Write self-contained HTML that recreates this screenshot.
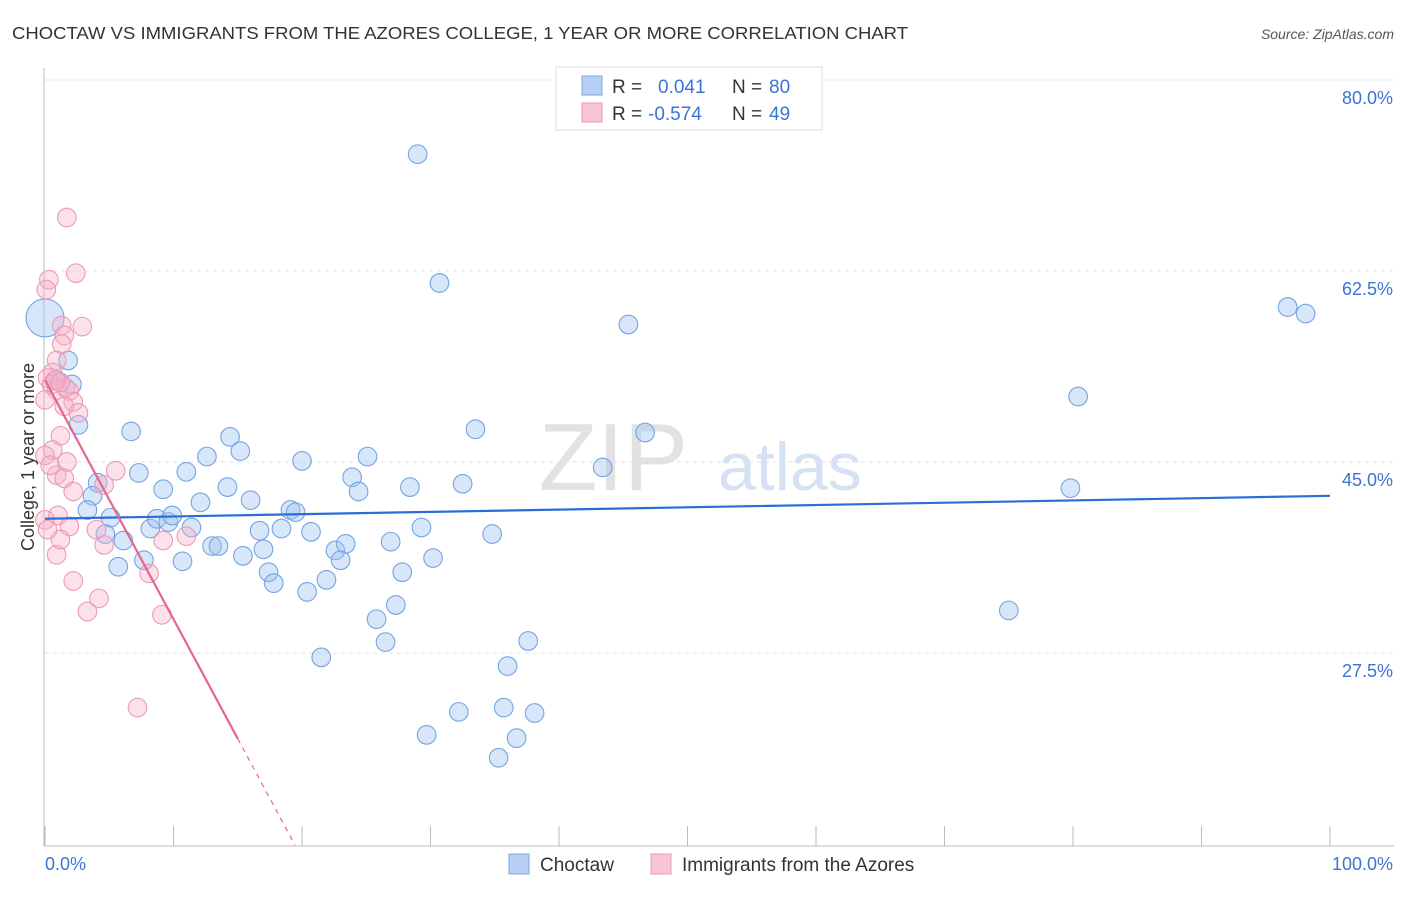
<!DOCTYPE html>
<html><head><meta charset="utf-8"><style>
body{margin:0;background:#fff;font-family:"Liberation Sans",sans-serif;}
svg text{font-family:"Liberation Sans",sans-serif;}
</style></head><body>
<svg id="chart" width="1406" height="892" viewBox="0 0 1406 892">
<text x="12" y="39" font-size="17.5" fill="#333" textLength="896" lengthAdjust="spacingAndGlyphs">CHOCTAW VS IMMIGRANTS FROM THE AZORES COLLEGE, 1 YEAR OR MORE CORRELATION CHART</text>
<text x="1394" y="39" font-size="14" fill="#555" text-anchor="end" font-style="italic">Source: ZipAtlas.com</text>
<g id="grid"></g>
<text x="688" y="490" font-size="96" fill="#e2e2e2" text-anchor="end" font-family="Liberation Serif">ZIP</text>
<text x="718" y="490" font-size="68" fill="#d6e2f3">atlas</text>
<g id="axes"></g>
<g id="pts"></g>
<g id="trends"></g>
<text transform="translate(34,457) rotate(-90)" font-size="18" fill="#333" text-anchor="middle">College, 1 year or more</text>
<g>
<rect x="556" y="67" width="266" height="63" fill="#fff" stroke="#ddd"/>
<rect x="582" y="76" width="20" height="19" fill="#b8d0f4" stroke="#7aa6e4"/>
<rect x="582" y="103" width="20" height="19" fill="#f9c4d6" stroke="#eb9ab8"/>
<text x="612" y="93" font-size="19" fill="#333">R = </text><text x="658" y="93" font-size="19" fill="#3a74d4">0.041</text>
<text x="732" y="93" font-size="19" fill="#333">N = </text><text x="769" y="93" font-size="19" fill="#3a74d4">80</text>
<text x="612" y="120" font-size="19" fill="#333">R = </text><text x="648" y="120" font-size="19" fill="#3a74d4">-0.574</text>
<text x="732" y="120" font-size="19" fill="#333">N = </text><text x="769" y="120" font-size="19" fill="#3a74d4">49</text>
</g>
<g>
<rect x="509" y="854" width="20" height="20" fill="#b8d0f4" stroke="#7aa6e4"/>
<text x="540" y="871" font-size="19" fill="#333">Choctaw</text>
<rect x="651" y="854" width="20" height="20" fill="#f9c4d6" stroke="#eb9ab8"/>
<text x="682" y="871" font-size="19" fill="#333">Immigrants from the Azores</text>
</g>
</svg>
<script>
const yTicks=[80,62.5,45,27.5];
const yTickLabels=["80.0%","62.5%","45.0%","27.5%"];
const xTicks=[0,10,20,30,40,50,60,70,80,90,100];
const blueX=[29.0,30.7,45.4,96.7,98.1,80.4,46.7,33.5,43.4,79.8,75.0,1.8,0.9,2.1,0,2.6,6.7,7.3,11.0,9.2,12.6,14.4,15.2,14.2,16.0,12.1,20.0,23.9,25.1,24.4,28.4,32.5,4.1,3.7,3.3,5.1,6.1,4.7,5.7,7.7,8.2,8.7,9.6,9.9,11.4,10.7,13.0,13.5,15.4,16.7,17.0,18.4,17.4,17.8,19.1,19.5,20.7,22.6,23.4,23.0,21.9,20.4,26.9,29.3,30.2,27.8,34.8,27.3,25.8,26.5,21.5,37.6,36.0,32.2,35.7,38.1,29.7,36.7,35.3];
const blueY=[73.2,61.4,57.6,59.2,58.6,51.0,47.7,48.0,44.5,42.6,31.4,54.3,52.5,52.1,58.2,48.4,47.8,44.0,44.1,42.5,45.5,47.3,46.0,42.7,41.5,41.3,45.1,43.6,45.5,42.3,42.7,43.0,43.1,41.9,40.6,39.9,37.8,38.4,35.4,36.0,38.9,39.8,39.5,40.1,39.0,35.9,37.3,37.3,36.4,38.7,37.0,38.9,34.9,33.9,40.6,40.4,38.6,36.9,37.5,36.0,34.2,33.1,37.7,39.0,36.2,34.9,38.4,31.9,30.6,28.5,27.1,28.6,26.3,22.1,22.5,22.0,20.0,19.7,17.9];
const pinkX=[1.7,2.4,0.3,0.1,2.9,1.3,1.5,1.3,0.9,0.6,0.2,0.5,0.9,1.6,1.9,2.2,1.5,2.6,1.2,0.6,0,1.7,0.9,1.5,5.5,4.6,2.2,1.0,1.9,4.0,4.6,0.9,1.2,8.1,11.0,9.2,2.2,4.2,3.3,9.1,7.2,0,0.2,0.8,1.2,0.4,0];
const pinkY=[67.4,62.3,61.7,60.8,57.4,57.5,56.6,55.8,54.3,53.2,52.7,52.1,51.6,51.8,51.5,50.5,50.1,49.5,47.4,46.1,45.6,45.0,43.8,43.5,44.2,42.9,42.3,40.1,39.1,38.8,37.4,36.5,37.9,34.8,38.2,37.8,34.1,32.5,31.3,31.0,22.5,39.7,38.8,52.5,52.3,44.7,50.7];
const blueTrend=[39.8,41.9];
const pinkTrend=[52.5,-2.19];
const NS="http://www.w3.org/2000/svg";
const X0=45,X1=1330,Y80=80,PXPER=191/17.5;
const sx=v=>X0+(X1-X0)*v/100;
const sy=v=>Y80+(80-v)*PXPER;
function mk(tag,attrs,parent){const e=document.createElementNS(NS,tag);for(const k in attrs)e.setAttribute(k,attrs[k]);parent.appendChild(e);return e;}
const grid=document.getElementById('grid'),axes=document.getElementById('axes'),pts=document.getElementById('pts'),tr=document.getElementById('trends');
yTicks.forEach((t,i)=>{
 const l=mk('line',{x1:45,x2:1394,y1:sy(t),y2:sy(t),stroke:'#e0e0e0','stroke-dasharray':'4,4'},grid);
 
 
 const tx=mk('text',{x:1393,y:sy(t)+24,'font-size':18,fill:'#3a74d4','text-anchor':'end'},axes);
 tx.textContent=yTickLabels[i];
 
 
});
const ya=mk('line',{x1:44,x2:44,y1:68,y2:846,stroke:'#bbb'},axes);


const xa=mk('line',{x1:44,x2:1394,y1:846,y2:846,stroke:'#bbb'},axes);


xTicks.forEach(t=>{
 const l=mk('line',{x1:sx(t),x2:sx(t),y1:826,y2:846,stroke:'#bbb'},axes);
 
 
});
const xl0=mk('text',{x:45,y:870,'font-size':18,fill:'#3a74d4'},axes);xl0.textContent='0.0%';


const xl1=mk('text',{x:1393,y:870,'font-size':18,fill:'#3a74d4','text-anchor':'end'},axes);xl1.textContent='100.0%';


blueX.forEach((x,i)=>{
 const c=mk('circle',{cx:sx(x),cy:sy(blueY[i]),r:(x===0&&blueY[i]>58)?19:9.3,fill:'rgba(160,195,240,0.42)',stroke:'#76a4e2','stroke-width':1.1},pts);
 
 
});
pinkX.forEach((x,i)=>{
 const c=mk('circle',{cx:sx(x),cy:sy(pinkY[i]),r:9.3,fill:'rgba(246,175,200,0.38)',stroke:'#ec9ab8','stroke-width':1.1},pts);
 
 
});
const bl=mk('line',{x1:sx(0),y1:sy(blueTrend[0]),x2:sx(100),y2:sy(blueTrend[1]),stroke:'#2a6fd6','stroke-width':2.2},tr);


const pv=x=>pinkTrend[0]+pinkTrend[1]*x;
const pl=mk('line',{x1:sx(0),y1:sy(pv(0)),x2:sx(15),y2:sy(pv(15)),stroke:'#e5668f','stroke-width':2.2},tr);


const xEnd=(pinkTrend[0]-9.9)/(-pinkTrend[1]);
const pd=mk('line',{x1:sx(15),y1:sy(pv(15)),x2:sx(xEnd),y2:sy(pv(xEnd)),stroke:'#e5668f','stroke-width':1.2,'stroke-dasharray':'5,5'},tr);


</script>
</body></html>
